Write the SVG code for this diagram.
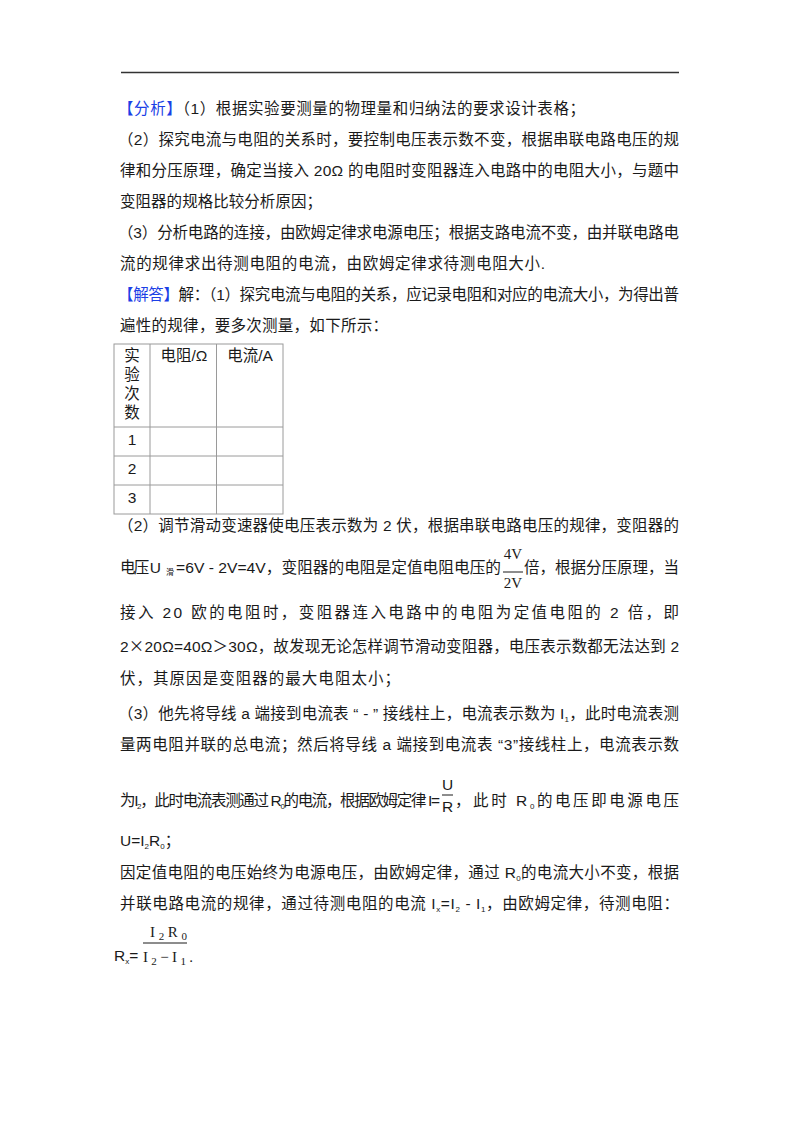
<svg xmlns="http://www.w3.org/2000/svg" width="800" height="1132" viewBox="0 0 800 1132">
<style>
.t{font-family:"Liberation Sans","Noto Sans CJK SC",sans-serif;font-size:15.5px;fill:#1a1a1a}
.b{fill:#1c3fe6}
.c{font-family:"Noto Sans CJK SC",sans-serif}
.s{font-family:"Liberation Serif","Noto Sans CJK SC",serif;font-size:15px;fill:#1a1a1a}
.sub{font-size:8px}
.g{stroke:#9a9a9a;stroke-width:1;fill:none}
.bar{stroke:#1a1a1a;stroke-width:1}
</style>
<rect width="800" height="1132" fill="#ffffff"/>
<line x1="121" y1="72.5" x2="679" y2="72.5" stroke="#333" stroke-width="1.3"/>

<g id="analysis">
<text class="t" x="118" y="114" textLength="467" lengthAdjust="spacing"><tspan class="b">【分析】</tspan>（1）根据实验要测量的物理量和归纳法的要求设计表格；</text>
<text class="t" x="118" y="145" textLength="561" lengthAdjust="spacing">（2）探究电流与电阻的关系时，要控制电压表示数不变，根据串联电路电压的规</text>
<text class="t" x="120" y="176" textLength="559" lengthAdjust="spacing">律和分压原理，确定当接入 20Ω 的电阻时变阻器连入电路中的电阻大小，与题中</text>
<text class="t" x="120" y="207" textLength="202" lengthAdjust="spacing">变阻器的规格比较分析原因；</text>
<text class="t" x="118" y="238" textLength="561" lengthAdjust="spacing">（3）分析电路的连接，由欧姆定律求电源电压；根据支路电流不变，由并联电路电</text>
<text class="t" x="120" y="269" textLength="425" lengthAdjust="spacing">流的规律求出待测电阻的电流，由欧姆定律求待测电阻大小.</text>
</g>

<g id="answer1">
<text class="t" x="118" y="300" textLength="561" lengthAdjust="spacing"><tspan class="b">【解答】</tspan>解：（1）探究电流与电阻的关系，应记录电阻和对应的电流大小，为得出普</text>
<text class="t" x="120" y="331" textLength="268" lengthAdjust="spacing">遍性的规律，要多次测量，如下所示：</text>
</g>

<g id="table">
<rect class="g" x="114" y="344" width="169" height="170"/>
<line class="g" x1="150" y1="344" x2="150" y2="514"/>
<line class="g" x1="216.5" y1="344" x2="216.5" y2="514"/>
<line class="g" x1="114" y1="427" x2="283" y2="427"/>
<line class="g" x1="114" y1="456" x2="283" y2="456"/>
<line class="g" x1="114" y1="485" x2="283" y2="485"/>
<g class="t" text-anchor="middle">
<text x="132" y="361">实</text>
<text x="132" y="380">验</text>
<text x="132" y="399">次</text>
<text x="132" y="418">数</text>
<text x="184" y="361">电阻/Ω</text>
<text x="250" y="361">电流/A</text>
<text x="132" y="445">1</text>
<text x="132" y="474">2</text>
<text x="132" y="503">3</text>
</g>
</g>

<g id="answer2">
<text class="t" x="118" y="531" textLength="561" lengthAdjust="spacing">（2）调节滑动变速器使电压表示数为 2 伏，根据串联电路电压的规律，变阻器的</text>
<text class="t" x="120" y="573" textLength="41" lengthAdjust="spacing">电压 U</text>
<text class="t sub" x="166" y="575">滑</text>
<text class="t" x="176" y="573" textLength="325" lengthAdjust="spacingAndGlyphs">=6V - 2V=4V，变阻器的电阻是定值电阻电压的</text>
<text class="s" x="513" y="559" text-anchor="middle">4V</text>
<line class="bar" x1="503" y1="572" x2="523" y2="572"/>
<text class="s" x="513" y="588" text-anchor="middle">2V</text>
<text class="t" x="524" y="573" textLength="155" lengthAdjust="spacing">倍，根据分压原理，当</text>
<text class="t" x="120" y="618" textLength="559" lengthAdjust="spacing">接入 20 欧的电阻时，变阻器连入电路中的电阻为定值电阻的 2 倍，即</text>
<text class="t" x="120" y="652" textLength="559" lengthAdjust="spacing">2<tspan class="c">×</tspan>20Ω=40Ω＞30Ω，故发现无论怎样调节滑动变阻器，电压表示数都无法达到 2</text>
<text class="t" x="120" y="684" textLength="280" lengthAdjust="spacing">伏，其原因是变阻器的最大电阻太小；</text>
</g>

<g id="answer3">
<text class="t" x="118" y="719" textLength="561" lengthAdjust="spacing">（3）他先将导线 a 端接到电流表 “ - ” 接线柱上，电流表示数为 I<tspan class="sub" dy="3">1</tspan><tspan dy="-3">，此时电流表测</tspan></text>
<text class="t" x="120" y="750" textLength="559" lengthAdjust="spacing">量两电阻并联的总电流；然后将导线 a 端接到电流表 “3”接线柱上，电流表示数</text>
<text class="t" x="120" y="806" font-size="14" textLength="320" lengthAdjust="spacing">为I<tspan class="sub" dy="3">2</tspan><tspan dy="-3">，此时电流表测通过 R</tspan><tspan class="sub" dy="3">0</tspan><tspan dy="-3">的电流，根据欧姆定律 I=</tspan></text>
<text class="t" x="447.5" y="790" text-anchor="middle">U</text>
<line class="bar" x1="442" y1="795" x2="453" y2="795"/>
<text class="t" x="447.5" y="812" text-anchor="middle">R</text>
<text class="t" x="455" y="806" textLength="224" lengthAdjust="spacing">，此时 R<tspan class="sub" dy="3">0</tspan><tspan dy="-3">的电压即电源电压</tspan></text>
<text class="t" x="120" y="846">U=I<tspan class="sub" dy="3">2</tspan><tspan dy="-3">R</tspan><tspan class="sub" dy="3">0</tspan><tspan dy="-3">；</tspan></text>
<text class="t" x="120" y="878" textLength="559" lengthAdjust="spacing">因定值电阻的电压始终为电源电压，由欧姆定律，通过 R<tspan class="sub" dy="3">0</tspan><tspan dy="-3">的电流大小不变，根据</tspan></text>
<text class="t" x="120" y="909" textLength="559" lengthAdjust="spacing">并联电路电流的规律，通过待测电阻的电流 I<tspan class="sub" dy="3">x</tspan><tspan dy="-3">=I</tspan><tspan class="sub" dy="3">2</tspan><tspan dy="-3"> - I</tspan><tspan class="sub" dy="3">1</tspan><tspan dy="-3">，由欧姆定律，待测电阻：</tspan></text>
<text class="t" x="114" y="961">R<tspan class="sub" dy="3">x</tspan><tspan dy="-3">=</tspan></text>
<text class="s" x="150" y="937" font-size="16" textLength="37" lengthAdjust="spacing">I<tspan font-size="11" dy="3">2</tspan><tspan dy="-3">R</tspan><tspan font-size="11" dy="3">0</tspan></text>
<line class="bar" x1="143" y1="943" x2="187" y2="943"/>
<text class="s" x="143" y="962" font-size="16" textLength="50" lengthAdjust="spacing">I<tspan font-size="11" dy="3">2</tspan><tspan dy="-3">−I</tspan><tspan font-size="11" dy="3">1</tspan><tspan dy="-3">.</tspan></text>
</g>
</svg>
